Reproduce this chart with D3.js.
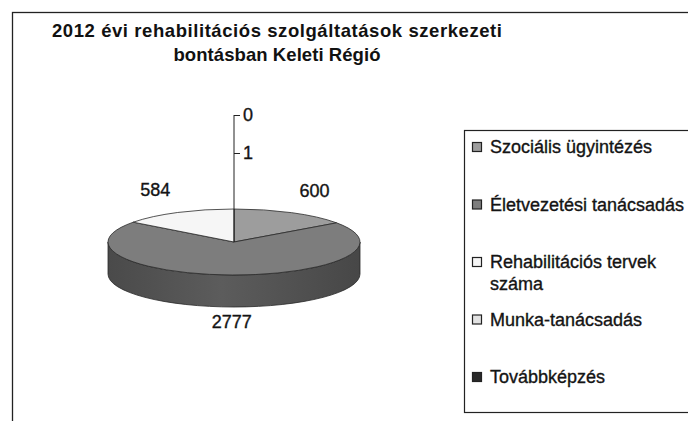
<!DOCTYPE html>
<html lang="hu">
<head>
<meta charset="UTF-8">
<title>2012 évi rehabilitációs szolgáltatások</title>
<style>
    body { margin: 0; background: #fff; }
    svg { display: block; font-family: Arial, "Liberation Sans", sans-serif; }
    .title { font-weight: bold; font-size: 18.5px; fill: #111; }
    .legend text { font-size: 18px; fill: #141414; stroke: #141414; stroke-width: 0.35px; }
    .label { font-size: 18px; fill: #141414; stroke: #141414; stroke-width: 0.35px; }
    .axis text { font-size: 18px; fill: #141414; stroke: #141414; stroke-width: 0.35px; font-family: Arial, "Liberation Sans", sans-serif; }
    .axis line { stroke: #222; }
</style>
</head>
<body>
<script src="https://d3js.org/d3.v7.min.js"></script>
<script>
// adatok
const titleLines = ["2012 évi rehabilitációs szolgáltatások szerkezeti", "bontásban Keleti Régió"];
const categories = ["Szociális ügyintézés", "Életvezetési tanácsadás", "Rehabilitációs tervek száma", "Munka-tanácsadás", "Továbbképzés"];
const values = [600, 2777, 584, 0, 0];
const axisTicks = [0, 1];

const W = 688, H = 421;
const svg = d3.select("body").append("svg")
    .attr("width", W)
    .attr("height", H);

// keret
svg.append("rect")
    .attr("x", 12.5).attr("y", 12.5)
    .attr("width", W).attr("height", H)
    .attr("fill", "#fff")
    .attr("stroke", "#222")
    .attr("stroke-width", 1.3);

// cím
svg.selectAll("text.title")
    .data(titleLines)
    .join("text")
    .attr("class", "title")
    .attr("x", 277)
    .attr("y", (d, i) => 37 + i * 24)
    .attr("text-anchor", "middle")
    .attr("textLength", (d, i) => i === 0 ? 450 : 207)
    .attr("lengthAdjust", "spacing")
    .text(d => d);

const topColor = d3.scaleOrdinal(categories, ["#9d9d9d", "#7d7d7d", "#f6f6f6", "#e2e2e2", "#2a2a2a"]);
const sideColor = d3.scaleOrdinal(categories, ["#6e6e6e", "#585858", "#bdbdbd", "#b0b0b0", "#1a1a1a"]);

// 3D torta
const cx = 234, cy = 242, rx = 126, ry = 33, depth = 32;

const pie = d3.pie().sort(null).value(d => d.value);
const arcs = pie(categories.map((c, i) => ({ name: c, value: values[i] })))
    .filter(d => d.value > 0);

const pt = (a, dy = 0) => [cx + rx * Math.sin(a), cy - ry * Math.cos(a) + dy];

const defs = svg.append("defs");
const grad = defs.append("linearGradient").attr("id", "side").attr("x1", "0").attr("x2", "1");
grad.append("stop").attr("offset", "0%").attr("stop-color", "#4a4a4a");
grad.append("stop").attr("offset", "45%").attr("stop-color", "#5c5c5c");
grad.append("stop").attr("offset", "100%").attr("stop-color", "#474747");

function sidePath(d) {
    const s = Math.max(d.startAngle, Math.PI / 2);
    const e = Math.min(d.endAngle, 3 * Math.PI / 2);
    if (e <= s) return null;
    const p0 = pt(s), p1 = pt(e), p2 = pt(e, depth), p3 = pt(s, depth);
    const large = e - s > Math.PI ? 1 : 0;
    return `M${p0}A${rx},${ry} 0 ${large} 1 ${p1}L${p2}A${rx},${ry} 0 ${large} 0 ${p3}Z`;
}

function topPath(d) {
    const p0 = pt(d.startAngle), p1 = pt(d.endAngle);
    const large = d.endAngle - d.startAngle > Math.PI ? 1 : 0;
    return `M${cx},${cy}L${p0}A${rx},${ry} 0 ${large} 1 ${p1}Z`;
}

const g = svg.append("g");

g.selectAll("path.side")
    .data(arcs.filter(d => sidePath(d)))
    .join("path")
    .attr("class", "side")
    .attr("d", sidePath)
    .attr("fill", d => d.data.name === categories[1] ? "url(#side)" : sideColor(d.data.name))
    .attr("stroke", "#2a2a2a")
    .attr("stroke-width", 0.8);

g.selectAll("path.top")
    .data(arcs)
    .join("path")
    .attr("class", "top")
    .attr("d", topPath)
    .attr("fill", d => topColor(d.data.name))
    .attr("stroke", "#2a2a2a")
    .attr("stroke-width", 0.8);

// adatfeliratok
g.selectAll("text.label")
    .data(arcs)
    .join("text")
    .attr("class", "label")
    .attr("text-anchor", "middle")
    .attr("dy", "0.35em")
    .attr("x", d => {
        const a = (d.startAngle + d.endAngle) / 2;
        return cx + 176 * Math.sin(a);
    })
    .attr("y", d => {
        const a = (d.startAngle + d.endAngle) / 2;
        const c = Math.cos(a);
        return cy - 58 * c + (c < 0 ? -c * 22 : 0);
    })
    .text(d => d.data.value);

// érték tengely (Excel maradvány)
const yAxis = d3.scaleLinear().domain([0, 1]).range([115, 153]);
const axisG = svg.append("g")
    .attr("class", "axis")
    .attr("transform", `translate(${cx},0)`)
    .call(d3.axisRight(yAxis).tickValues(axisTicks).tickSize(6).tickPadding(3).tickFormat(d3.format("d")));
axisG.select(".domain").remove();
axisG.append("line")
    .attr("x1", 0).attr("x2", 0)
    .attr("y1", yAxis(0)).attr("y2", cy)
    .attr("stroke", "#222");

// jelmagyarázat
const legend = svg.append("g").attr("class", "legend");
legend.append("rect")
    .attr("x", 464.5).attr("y", 130.5)
    .attr("width", 260).attr("height", 282)
    .attr("fill", "#fff")
    .attr("stroke", "#222")
    .attr("stroke-width", 1.2);

const ly = d3.scalePoint().domain(categories).range([153, 383]);

const items = legend.selectAll("g.item")
    .data(categories)
    .join("g")
    .attr("class", "item")
    .attr("transform", d => `translate(0,${ly(d)})`);

items.append("rect")
    .attr("x", 472.5).attr("y", -10.5)
    .attr("width", 9).attr("height", 9)
    .attr("fill", d => topColor(d))
    .attr("stroke", "#222")
    .attr("stroke-width", 1.2);

items.append("text")
    .attr("x", 490)
    .attr("y", 0)
    .each(function (d) {
        const t = d3.select(this);
        const words = d.split(" ");
        let line = [];
        let tspan = t.append("tspan").attr("x", 490).attr("dy", 0);
        words.forEach(w => {
            line.push(w);
            tspan.text(line.join(" "));
            if (tspan.node().getComputedTextLength() > 196 && line.length > 1) {
                line.pop();
                tspan.text(line.join(" "));
                line = [w];
                tspan = t.append("tspan").attr("x", 490).attr("dy", 22).text(w);
            }
        });
    });
</script>
</body>
</html>
